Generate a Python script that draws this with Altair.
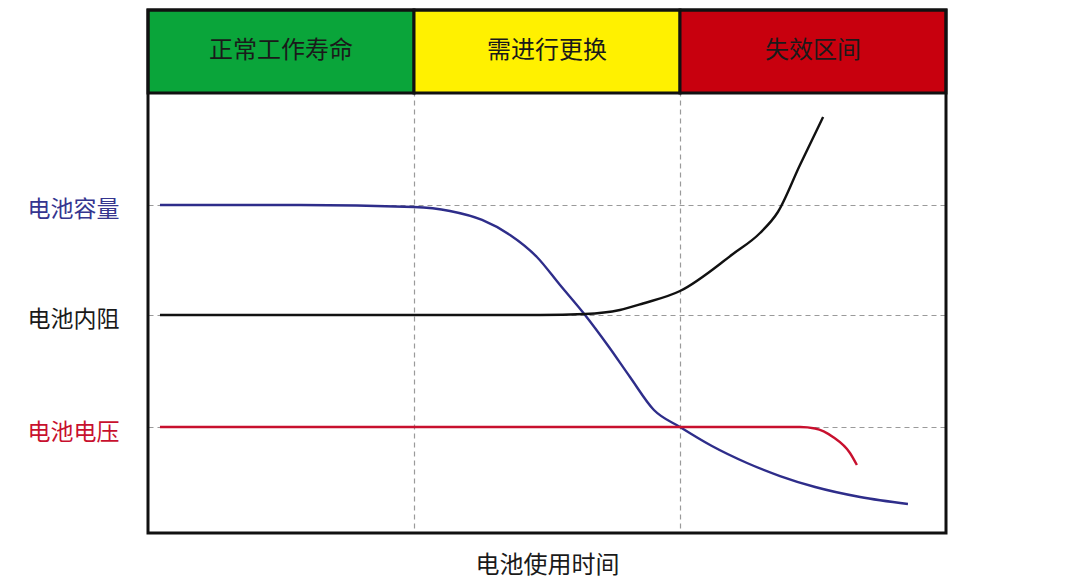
import altair as alt
import pandas as pd

FONT = "Noto Sans CJK SC"

# header zones
zone_names = ["正常工作寿命", "需进行更换", "失效区间"]
zone_start = [0, 1, 2]
zone_end = [1, 2, 3]
zone_colors = ["#0AA53A", "#FFF100", "#C8000E"]
HEADER_LOW = 100.0
HEADER_HIGH = 118.86

# left-hand levels
level_names = ["电池容量", "电池内阻", "电池电压"]
level_values = [74.55, 49.55, 24.09]
level_colors = ["#35358F", "#1A1A1A", "#C8102E"]

# curves (x: usage time in zone units, y: relative level)
cap_x = [0.045, 0.571, 1.0, 1.135, 1.256, 1.361, 1.462, 1.549, 1.643, 1.733, 1.812, 1.902, 2.0, 2.12, 2.252, 2.376, 2.508, 2.677, 2.857]
cap_y = [74.55, 74.55, 74.09, 73.18, 71.14, 67.73, 62.73, 56.36, 49.55, 42.27, 35.45, 27.95, 24.09, 19.77, 15.91, 12.95, 10.45, 8.18, 6.59]

res_x = [0.045, 0.947, 1.474, 1.643, 1.774, 1.861, 2.0, 2.199, 2.301, 2.368, 2.451, 2.538]
res_y = [49.55, 49.55, 49.55, 49.77, 50.68, 52.16, 55.0, 63.41, 68.18, 72.95, 83.64, 94.55]

volt_x = [0.045, 1.0, 2.0, 2.451, 2.508, 2.575, 2.639, 2.665]
volt_y = [24.09, 24.09, 24.09, 24.09, 23.75, 21.82, 18.18, 15.45]

series_names = ["容量", "内阻", "电压"]
series_colors = ["#2E2D8A", "#111111", "#C8102E"]

rows = []
for name, xs, ys in zip(series_names, [cap_x, res_x, volt_x], [cap_y, res_y, volt_y]):
    for i, (a, b) in enumerate(zip(xs, ys)):
        rows.append({"series": name, "t": a, "v": b, "i": i})
curves = pd.DataFrame(rows)

zones = pd.DataFrame({
    "name": zone_names, "x0": zone_start, "x1": zone_end,
    "color": zone_colors,
})
zones["y0"] = HEADER_LOW
zones["y1"] = HEADER_HIGH
zones["xm"] = (zones["x0"] + zones["x1"]) / 2
zones["ym"] = (zones["y0"] + zones["y1"]) / 2

xscale = alt.Scale(domain=[0, 3], nice=False, zero=False)
yscale = alt.Scale(domain=[0, HEADER_HIGH], nice=False, zero=False)

label_expr = " : ".join(
    [f"abs(datum.value - {v}) < 0.01 ? '{n}'" for v, n in zip(level_values, level_names)]
) + " : ''"
label_color = {
    "condition": [
        {"test": f"abs(datum.value - {v}) < 0.01", "value": c}
        for v, c in zip(level_values, level_colors)
    ],
    "value": "#1A1A1A",
}

xaxis = alt.Axis(values=[1, 2], grid=True, labels=False, ticks=False, domain=False,
                 gridDash=[5, 4], gridColor="#9A9A9A", gridWidth=1.2,
                 title="电池使用时间", titleFont=FONT, titleFontSize=24,
                 titleFontWeight="normal", titleColor="#1A1A1A", titlePadding=20)
yaxis = alt.Axis(values=level_values, grid=True, ticks=False, domain=False,
                 gridDash=[5, 4], gridColor="#9A9A9A", gridWidth=1.2,
                 labelExpr=label_expr, labelColor=label_color,
                 labelFont=FONT, labelFontSize=23, labelPadding=29,
                 labelOffset=5, title=None)

base_lines = alt.Chart(curves).mark_line(interpolate="monotone", strokeWidth=2.4).encode(
    x=alt.X("t:Q", scale=xscale, axis=xaxis),
    y=alt.Y("v:Q", scale=yscale, axis=yaxis),
    color=alt.Color("series:N", scale=alt.Scale(domain=series_names, range=series_colors), legend=None),
    order="i:Q",
)

header = alt.Chart(zones).mark_rect(stroke="#111111", strokeWidth=3).encode(
    x=alt.X("x0:Q", scale=xscale),
    x2="x1:Q",
    y=alt.Y("y0:Q", scale=yscale),
    y2="y1:Q",
    fill=alt.Fill("color:N", scale=None),
)

header_text = alt.Chart(zones).mark_text(font=FONT, fontSize=24, color="#1A1A1A").encode(
    x=alt.X("xm:Q", scale=xscale),
    y=alt.Y("ym:Q", scale=yscale),
    text="name:N",
)

frame = alt.Chart(pd.DataFrame({"a": [0], "b": [3], "c": [0], "d": [HEADER_HIGH]})).mark_rect(
    fill=None, stroke="#111111", strokeWidth=3
).encode(
    x=alt.X("a:Q", scale=xscale), x2="b:Q",
    y=alt.Y("c:Q", scale=yscale), y2="d:Q",
)

chart = alt.layer(base_lines, header, header_text, frame).properties(
    width=798, height=523,
    autosize=alt.AutoSizeParams(type="none"),
    padding={"left": 140, "top": 2, "right": 120, "bottom": 45},
).configure_view(stroke=None).configure(background="white")

chart.save("out.html", embed_options={"renderer": "svg", "actions": False})
